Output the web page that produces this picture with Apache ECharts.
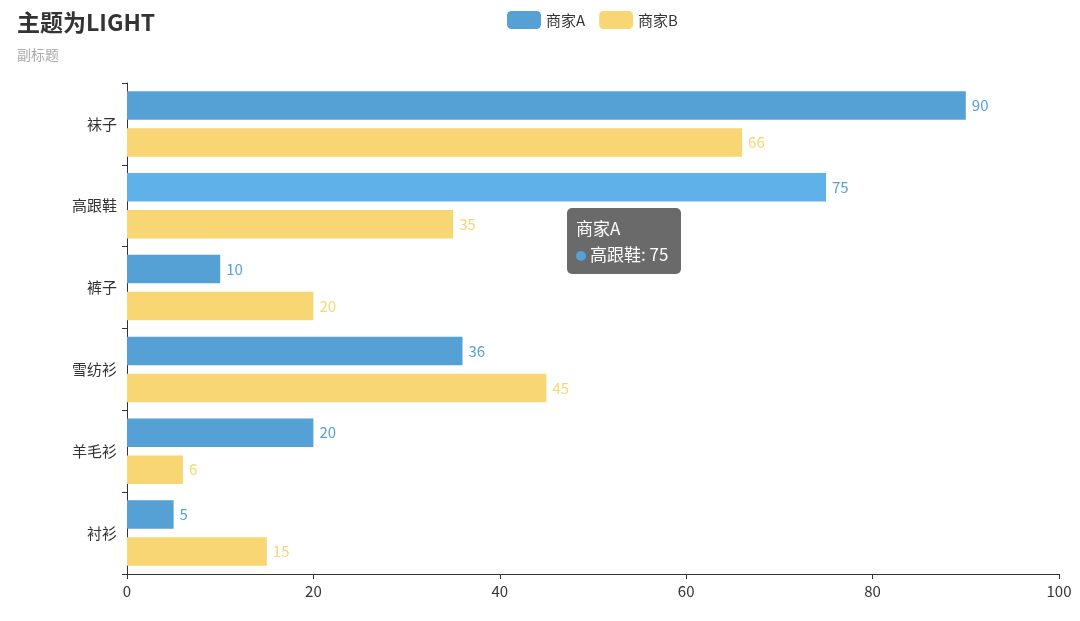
<!DOCTYPE html>
<html>
<head>
<meta charset="utf-8">
<script src="https://cdn.jsdelivr.net/npm/echarts@6/dist/echarts.min.js"></script>
<style>
  html, body { margin: 0; padding: 0; background: #fff; }
  #main { width: 1080px; height: 621px; }
</style>
</head>
<body>
<div id="main"></div>
<script>
// 类目 (自下而上)
var categories = ['衬衫', '羊毛衫', '雪纺衫', '裤子', '高跟鞋', '袜子'];
var seriesNames = ['商家A', '商家B'];
var valuesA = [5, 20, 36, 10, 75, 90];
var valuesB = [15, 6, 45, 20, 35, 66];
var xTicks = [0, 20, 40, 60, 80, 100];

var colorA = '#55a1d6';
var colorB = '#f8d673';

var myChart = echarts.init(document.getElementById('main'), null, { renderer: 'canvas' });
var fontFamily = '"Noto Sans CJK SC", "Noto Sans", sans-serif';

var option = {
    animation: false,
    textStyle: { fontFamily: fontFamily },
    title: {
        text: '主题为LIGHT',
        subtext: '副标题',
        left: 12,
        top: 6,
        itemGap: 14,
        textStyle: { fontSize: 23, fontWeight: 'bold', color: '#333', fontFamily: fontFamily },
        subtextStyle: { fontSize: 14, color: '#aaa', fontFamily: fontFamily }
    },
    legend: {
        data: seriesNames,
        left: 502,
        top: 6,
        itemWidth: 34,
        itemHeight: 18,
        itemGap: 14,
        icon: 'roundRect',
        textStyle: { fontSize: 15, color: '#333' }
    },
    tooltip: {
        trigger: 'item',
        alwaysShowContent: true,
        transitionDuration: 0,
        backgroundColor: 'rgba(85,85,85,0.88)',
        borderWidth: 0,
        padding: [7, 13, 7, 9],
        position: [567, 208],
        extraCssText: 'box-shadow:none;border-radius:5px;',
        textStyle: { color: '#fff', fontSize: 17, fontFamily: fontFamily },
        formatter: function (p) {
            return p.seriesName + '<br/>' + p.marker + p.name + ': ' + p.value;
        }
    },
    grid: { left: 127, right: 21, top: 83, bottom: 47 },
    xAxis: {
        type: 'value',
        min: xTicks[0],
        max: xTicks[xTicks.length - 1],
        interval: 20,
        axisLine: { show: true, lineStyle: { color: '#333' } },
        axisTick: { show: true, length: 5 },
        axisLabel: { fontSize: 15, color: '#333', margin: 10 },
        splitLine: { show: false }
    },
    yAxis: {
        type: 'category',
        data: categories,
        axisLine: { show: true, lineStyle: { color: '#333' } },
        axisTick: { show: true, length: 5 },
        axisLabel: { fontSize: 15, color: '#333', margin: 10 }
    },
    series: [
        {
            name: seriesNames[0],
            type: 'bar',
            data: valuesA,
            barGap: '30%',
            barCategoryGap: '20%',
            itemStyle: { color: colorA },
            emphasis: { itemStyle: { color: '#5fb1ea' } },
            label: { show: true, position: 'right', fontSize: 15, color: colorA, distance: 6 }
        },
        {
            name: seriesNames[1],
            type: 'bar',
            data: valuesB,
            barGap: '30%',
            barCategoryGap: '20%',
            itemStyle: { color: colorB },
            label: { show: true, position: 'right', fontSize: 15, color: colorB, distance: 6 }
        }
    ]
};

myChart.setOption(option);
myChart.dispatchAction({ type: 'highlight', seriesIndex: 0, dataIndex: 4 });
myChart.dispatchAction({ type: 'showTip', seriesIndex: 0, dataIndex: 4 });

window.addEventListener('resize', function () {
    myChart.resize();
});
</script>
</body>
</html>
